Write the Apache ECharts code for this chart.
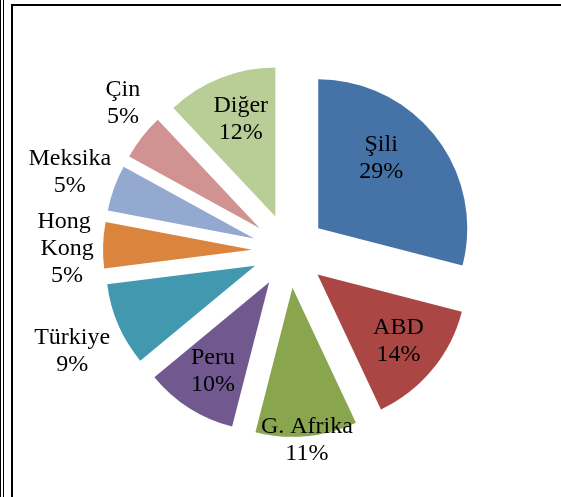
<!DOCTYPE html>
<html>
<head>
<meta charset="utf-8">
<script src="https://cdn.jsdelivr.net/npm/echarts@6/dist/echarts.min.js"></script>
<style>
  html, body { margin: 0; padding: 0; background: #fff; }
  #chart { position: absolute; left: 0; top: 0; width: 561px; height: 497px; }
  .ln { position: absolute; background: #000; pointer-events: none; }
</style>
</head>
<body>
<div id="chart"></div>
<div class="ln" style="left:0;top:0;width:1px;height:497px;"></div>
<div class="ln" style="left:3px;top:0;width:1px;height:497px;"></div>
<div class="ln" style="left:11px;top:4px;width:2px;height:493px;"></div>
<div class="ln" style="left:11px;top:4px;width:550px;height:2px;"></div>
<script>
// Data
const categories = ['Şili', 'ABD', 'G. Afrika', 'Peru', 'Türkiye', 'Hong Kong', 'Meksika', 'Çin', 'Diğer'];
const shares = [29, 14, 11, 10, 9, 5, 5, 5, 12];
const colors = ['#4572A7', '#AA4643', '#89A54E', '#71588F', '#4198AF', '#DB843D', '#93A9CF', '#D19392', '#B9CD96'];
const labelGroup = ['in', 'in', 'edge', 'in', 'out', 'out', 'out', 'out', 'in'];

// small label nudges (style only)
const labelNudge = {
  'Şili': [-20, -6],
  'Çin': [18, -5],
  'Hong Kong': [11, 5],
  'Türkiye': [-3, 8],
  'Diğer': [4, 0]
};

const center = [289, 251];
const R = 149;
const offset = 37;

const chart = echarts.init(document.getElementById('chart'), null, { renderer: 'canvas' });

const labelStyle = {
  fontFamily: 'Liberation Serif, Times New Roman, serif',
  fontSize: 24,
  lineHeight: 27,
  color: '#000',
  align: 'center',
  formatter: p => p.name + '\n' + p.value + '%'
};

function labelSeries(group, radius, extra) {
  return {
    type: 'pie',
    center: center,
    radius: [0, radius],
    startAngle: 90,
    clockwise: true,
    silent: true,
    animation: false,
    avoidLabelOverlap: false,
    labelLayout: function (params) {
      const n = labelNudge[categories[params.dataIndex]] || [0, 0];
      return { dx: n[0], dy: n[1], hideOverlap: false };
    },
    selectedMode: 'multiple',
    selectedOffset: offset,
    itemStyle: { color: 'rgba(0,0,0,0)', borderWidth: 0 },
    labelLine: { show: false },
    emphasis: { disabled: true },
    z: 5,
    data: categories.map((c, i) => ({
      name: c,
      value: shares[i],
      selected: true,
      label: Object.assign({ show: labelGroup[i] === group, position: 'inside' }, labelStyle, extra || {})
    }))
  };
}

chart.setOption({
  animation: false,
  backgroundColor: '#fff',
  series: [
    {
      type: 'pie',
      center: center,
      radius: [0, R],
      startAngle: 90,
      clockwise: true,
      silent: true,
      selectedMode: 'multiple',
      selectedOffset: offset,
      label: { show: false },
      labelLine: { show: false },
      emphasis: { disabled: true },
      data: categories.map((c, i) => ({
        name: c,
        value: shares[i],
        selected: true,
        itemStyle: { color: colors[i] }
      }))
    },
    labelSeries('in', 204),
    labelSeries('edge', 300),
    labelSeries('out', 386, { width: 95, overflow: 'break' })
  ]
});
</script>
</body>
</html>
